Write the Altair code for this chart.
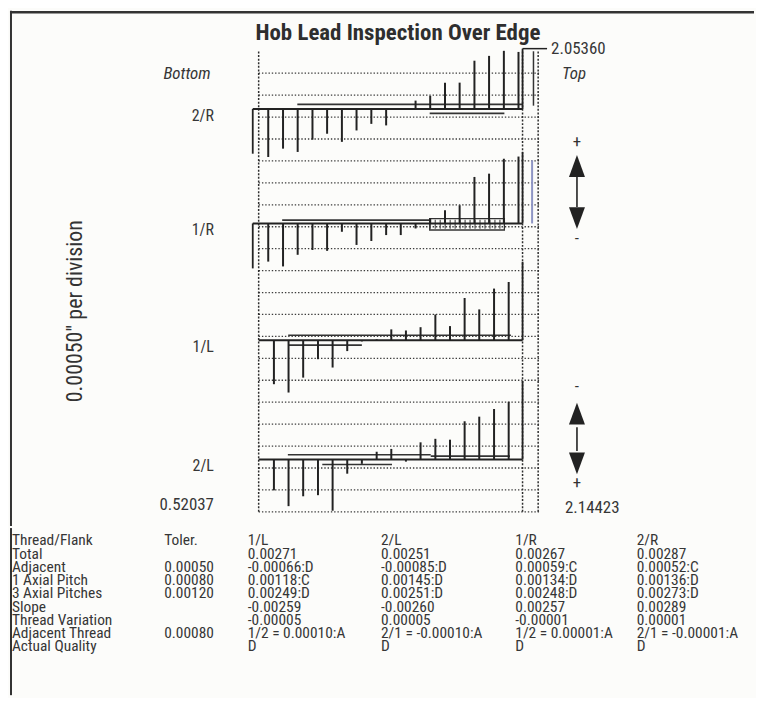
import altair as alt
import pandas as pd

FONT = "Liberation Sans Narrow, Roboto Condensed, DejaVu Sans Condensed, Liberation Sans, sans-serif"
INK = "#222222"
TXT = "#363636"

# ---------------- chart data ----------------
flanks = ["2/R", "1/R", "1/L", "2/L"]
flank_baseline = [18.37, 13.15, 7.82, 2.39]          # divisions (0.00050") above lowest grid line

start_pos = 0.52037   # axial start (bottom)
top_pos = 2.05360     # axial end of evaluation (top)
end_pos = 2.14423     # axial end of trace

r_positions = [0.576, 0.662, 0.747, 0.833, 0.918, 1.004, 1.089, 1.175, 1.261,
               1.346, 1.432, 1.517, 1.603, 1.688, 1.774, 1.859, 1.945, 2.030]
l_positions = [0.609, 0.694, 0.779, 0.865, 0.950, 1.035, 1.120, 1.206, 1.291,
               1.376, 1.461, 1.547, 1.632, 1.717, 1.802, 1.888, 1.973]

dev_2R = [-2.19, -1.81, -1.96, -1.40, -1.13, -1.50, -0.98, -0.68, -0.75,
          0.04, 0.38, 0.60, 1.20, 1.20, 2.20, 2.42, 2.65, 2.60]
dev_1R = [-1.74, -1.96, -1.43, -1.21, -1.25, -0.38, -0.98, -0.80, -0.53,
          -0.53, -0.23, 0.23, 0.60, 0.83, 2.12, 2.27, 2.95, 3.05]
dev_1L = [-2.00, -2.38, -1.70, -0.86, -1.24, -0.49, -0.05, 0.05, 0.50,
          0.45, 0.60, 1.18, 0.65, 1.93, 1.41, 2.36, 2.66]
dev_2L = [-1.41, -2.13, -1.68, -1.63, -2.34, -0.65, -0.20, 0.35, 0.48,
          -0.10, 0.78, 0.94, 0.90, 1.74, 1.95, 2.30, 2.63]

# mean-line segments drawn next to each trace (offset in divisions from baseline)
mean_flank = ["2/R", "2/R", "1/R", "1/L", "1/L", "2/L", "2/L", "2/L"]
mean_from = [0.745, 1.514, 0.657, 0.692, 0.692, 0.690, 1.520, 0.890]
mean_to = [2.053, 1.948, 1.514, 1.986, 1.120, 1.520, 1.980, 1.295]
mean_off = [0.21, -0.20, 0.15, 0.23, -0.22, 0.21, 0.15, -0.23]

# trace end brackets
bracket_flank = ["2/R", "2/R", "1/R", "1/R", "1/L", "2/L"]
bracket_pos = [0.486, 2.0536, 0.486, 2.0536, 2.0536, 2.0536]
bracket_off = [-2.04, 2.75, -2.05, 3.25, 3.58, 3.58]

grid_divisions = list(range(0, 21))

# ---------------- table data ----------------
table_rows = ["Thread/Flank", "Total", "Adjacent", "1 Axial Pitch", "3 Axial Pitches",
              "Slope", "Thread Variation", "Adjacent Thread", "Actual Quality"]
toler = ["Toler.", "", "0.00050", "0.00080", "0.00120", "", "", "0.00080", ""]
col_1L = ["1/L", " 0.00271", "-0.00066:D", " 0.00118:C", " 0.00249:D", "-0.00259",
          "-0.00005", "1/2 = 0.00010:A", "D"]
col_2L = ["2/L", " 0.00251", "-0.00085:D", " 0.00145:D", " 0.00251:D", "-0.00260",
          " 0.00005", "2/1 = -0.00010:A", "D"]
col_1R = ["1/R", " 0.00267", " 0.00059:C", " 0.00134:D", " 0.00248:D", " 0.00257",
          "-0.00001", " 1/2 = 0.00001:A", " D"]
col_2R = ["2/R", "0.00287", "0.00052:C", "0.00136:D", "0.00273:D", "0.00289",
          "0.00001", "2/1 = -0.00001:A", "D"]

# ---------------- build frames ----------------
W = 748
H_PLOT = 518
H_TABLE = 168

XS = alt.Scale(domain=[-0.92439, 3.39832], nice=False, zero=False)
YS = alt.Scale(domain=[-0.6485, 22.844], nice=False, zero=False)

base_of = dict(zip(flanks, flank_baseline))
devs = {"2/R": dev_2R, "1/R": dev_1R, "1/L": dev_1L, "2/L": dev_2L}

stem_rows = []
for f in flanks:
    pos = r_positions if f.endswith("R") else l_positions
    for a, v in zip(pos, devs[f]):
        stem_rows.append({"flank": f, "a": a, "base": base_of[f], "tip": base_of[f] + v})
stems_df = pd.DataFrame(stem_rows)

baseline_df = pd.DataFrame({
    "flank": flanks,
    "a1": [0.486 if f.endswith("R") else start_pos for f in flanks],
    "a2": [top_pos] * 4,
    "d": flank_baseline,
})

mean_df = pd.DataFrame({"flank": mean_flank, "a1": mean_from, "a2": mean_to, "off": mean_off})
mean_df["d"] = mean_df["flank"].map(base_of) + mean_df["off"]

br_df = pd.DataFrame({"flank": bracket_flank, "a": bracket_pos, "off": bracket_off})
br_df["d1"] = br_df["flank"].map(base_of)
br_df["d2"] = br_df["d1"] + br_df["off"]

grid_df = pd.DataFrame({"d": grid_divisions, "a1": start_pos, "a2": end_pos + 0.01})
vdash_df = pd.DataFrame({"a": [start_pos, top_pos, end_pos], "d1": 0, "d2": 21.03})


def X(f):
    return alt.X(f, type="quantitative", scale=XS, axis=None)


def Y(f):
    return alt.Y(f, type="quantitative", scale=YS, axis=None)


grid = alt.Chart(grid_df).mark_rule(color="#3c3c3c", strokeWidth=1.3, strokeDash=[1.4, 1.9]).encode(
    x=X("a1"), x2="a2", y=Y("d"))
vdash = alt.Chart(vdash_df).mark_rule(color="#2e2e2e", strokeWidth=1.5, strokeDash=[2, 1.6]).encode(
    x=X("a"), y=Y("d1"), y2="d2")
baselines = alt.Chart(baseline_df).mark_rule(color=INK, strokeWidth=2).encode(
    x=X("a1"), x2="a2", y=Y("d"))
means = alt.Chart(mean_df).mark_rule(color="#333333", strokeWidth=1.6).encode(
    x=X("a1"), x2="a2", y=Y("d"))
brackets = alt.Chart(br_df).mark_rule(color=INK, strokeWidth=1.8).encode(
    x=X("a"), y=Y("d1"), y2="d2")
stems = alt.Chart(stems_df).mark_rule(color=INK, strokeWidth=2).encode(
    x=X("a"), y=Y("base"), y2="tip")

# 1/R box (with ladder hatching), extra right-hand traces and leader
box_df = pd.DataFrame({"a1": [1.514], "a2": [1.948], "d1": [base_of["1/R"] + 0.22], "d2": [base_of["1/R"] - 0.30]})
box = alt.Chart(box_df).mark_rect(fill=None, stroke="#333333", strokeWidth=1.3).encode(
    x=X("a1"), x2="a2", y=Y("d1"), y2="d2")
box_df["dm"] = (box_df["d1"] + box_df["d2"]) / 2
hatch = alt.Chart(box_df).mark_rule(color="#555555", strokeWidth=9, strokeDash=[1.2, 3.8]).encode(
    x=X("a1"), x2="a2", y=Y("dm"))
extra_df = pd.DataFrame({"a": [2.117], "d1": [base_of["2/R"] + 0.15], "d2": [21.0]})
extra = alt.Chart(extra_df).mark_rule(color="#333333", strokeWidth=1.5).encode(
    x=X("a"), y=Y("d1"), y2="d2")
blue_df = pd.DataFrame({"a": [2.109], "d1": [base_of["1/R"]], "d2": [base_of["1/R"] + 2.88]})
blue = alt.Chart(blue_df).mark_rule(color="#8e95c4", strokeWidth=2).encode(
    x=X("a"), y=Y("d1"), y2="d2")
leader_df = pd.DataFrame({"a1": [top_pos], "a2": [2.196], "d": [21.12]})
leader = alt.Chart(leader_df).mark_rule(color=INK, strokeWidth=1.5).encode(
    x=X("a1"), x2="a2", y=Y("d"))

# direction arrows
ARROW_A = 2.3697
shaft_df = pd.DataFrame({"a": [ARROW_A, ARROW_A], "d1": [15.3, 3.86], "d2": [13.9, 2.78]})
shafts = alt.Chart(shaft_df).mark_rule(color=INK, strokeWidth=1.6).encode(
    x=X("a"), y=Y("d1"), y2="d2")
up_df = pd.DataFrame({"a": [ARROW_A, ARROW_A], "d": [15.77, 4.48]})
down_df = pd.DataFrame({"a": [ARROW_A, ARROW_A], "d": [13.39, 2.21]})
ups = alt.Chart(up_df).mark_point(shape="M0,-1L0.73,1L-0.73,1Z", filled=True, size=484,
                                   color=INK, opacity=1).encode(x=X("a"), y=Y("d"))
downs = alt.Chart(down_df).mark_point(shape="M0,1L0.73,-1L-0.73,-1Z", filled=True, size=484,
                                       color=INK, opacity=1).encode(x=X("a"), y=Y("d"))
sign_df = pd.DataFrame({"a": [ARROW_A] * 4, "d": [16.85, 12.46, 5.67, 1.30], "t": ["+", "-", "-", "+"]})
signs = alt.Chart(sign_df).mark_text(font=FONT, fontSize=17, color="#333333",
                                     baseline="middle").encode(x=X("a"), y=Y("d"), text="t:N")

# text annotations
flank_lab_df = pd.DataFrame({"a": [0.2603] * 4, "d": [b - 0.3 for b in flank_baseline], "t": flanks})
flank_labels = alt.Chart(flank_lab_df).mark_text(font=FONT, fontSize=16, color=TXT, align="right",
                                                 baseline="middle").encode(x=X("a"), y=Y("d"), text="t:N")
ends_df = pd.DataFrame({"a": [0.1043, 2.2830], "d": [19.94, 19.94], "t": ["Bottom", "Top"]})
bottom_lab = alt.Chart(ends_df.iloc[[0]]).mark_text(font=FONT, fontSize=17, fontStyle="italic", color=TXT,
                                                   align="center", baseline="middle").encode(
    x=X("a"), y=Y("d"), text="t:N")
top_lab = alt.Chart(ends_df.iloc[[1]]).mark_text(font=FONT, fontSize=17, fontStyle="italic", color=TXT,
                                                align="left", baseline="middle").encode(
    x=X("a"), y=Y("d"), text="t:N")
start_lab = alt.Chart(pd.DataFrame({"a": [0.2603], "d": [0.30], "t": [f"{start_pos:.5f}"]})).mark_text(
    font=FONT, fontSize=17, color=TXT, align="right", baseline="middle").encode(x=X("a"), y=Y("d"), text="t:N")
endpos_lab = alt.Chart(pd.DataFrame({"a": [2.2194, 2.3003], "d": [21.12, 0.17],
                                     "t": [f"{top_pos:.5f}", f"{end_pos:.5f}"]})).mark_text(
    font=FONT, fontSize=17, color=TXT, align="left", baseline="middle").encode(x=X("a"), y=Y("d"), text="t:N")
title = alt.Chart(pd.DataFrame({"a": [1.3295], "d": [21.84], "t": ["Hob Lead Inspection Over Edge"]})).mark_text(
    font=FONT, fontSize=23, fontWeight="bold", color="#2e2e2e", align="center", baseline="middle").encode(
    x=X("a"), y=Y("d"), text="t:N")
ytitle = alt.Chart(pd.DataFrame({"a": [-0.5487], "d": [9.15], "t": ['0.00050" per division']})).mark_text(
    font=FONT, fontSize=22, color="#333333", angle=270, align="center", baseline="middle").encode(
    x=X("a"), y=Y("d"), text="t:N")

# frame (left border + top rule)
frame_v = alt.Chart(pd.DataFrame({"k": [0]})).mark_rule(color="#333333", strokeWidth=2).encode(
    x=alt.value(1), y=alt.value(0), y2=alt.value(H_PLOT))
frame_h = alt.Chart(pd.DataFrame({"k": [0]})).mark_rule(color="#333333", strokeWidth=2.5).encode(
    x=alt.value(0), x2=alt.value(W), y=alt.value(1.5))

plot = alt.layer(
    grid, vdash, means, hatch, box, blue, extra, baselines, brackets, stems, leader,
    shafts, ups, downs, signs,
    flank_labels, bottom_lab, top_lab, start_lab, endpos_lab, title, ytitle,
    frame_v, frame_h,
).properties(width=W, height=H_PLOT)

# ---------------- table ----------------
cols = [table_rows, toler, col_1L, col_2L, col_1R, col_2R]
cells = []
for ci, col in enumerate(cols):
    for ri, txt in enumerate(col):
        if txt.strip() == "":
            continue
        t = "\u00a0" + txt[1:] if txt.startswith(" ") else txt
        cells.append({"col": ci, "row": ri, "text": t})
cells_df = pd.DataFrame(cells)

table_text = alt.Chart(cells_df).mark_text(font=FONT, fontSize=15.5, color=TXT, align="left",
                                           baseline="middle").encode(
    x=alt.X("col:Q", axis=None, scale=alt.Scale(domain=[0, 1, 2, 3, 4, 5],
                                                 range=[2, 155, 239, 373, 508, 630])),
    y=alt.Y("row:Q", axis=None, scale=alt.Scale(domain=[-0.9398, 11.692], reverse=True, nice=False, zero=False)),
    text="text:N",
)
tframe_v = alt.Chart(pd.DataFrame({"k": [0]})).mark_rule(color="#333333", strokeWidth=2).encode(
    x=alt.value(1), y=alt.value(0), y2=alt.value(H_TABLE))
table = alt.layer(table_text, tframe_v).properties(width=W, height=H_TABLE)

chart = alt.vconcat(plot, table, spacing=0).resolve_scale(x="independent", y="independent").properties(
    padding=0, background="#fcfcfa"
).configure_view(stroke=None)

chart.save("out.html", embed_options={"renderer": "svg", "actions": False})
